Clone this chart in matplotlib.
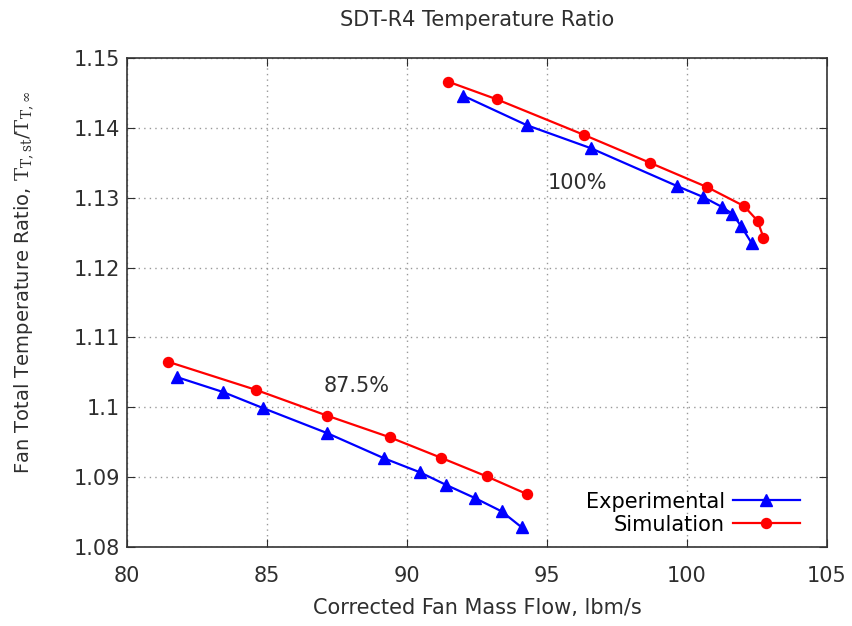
import matplotlib
matplotlib.use("Agg")
import matplotlib.pyplot as plt

# 100% speed line
exp100_flow = [92.01, 94.27, 96.56, 99.63, 100.58, 101.24, 101.62, 101.92, 102.31]
exp100_ratio = [1.1446, 1.1404, 1.1371, 1.1317, 1.1301, 1.1287, 1.1277, 1.1260, 1.1235]
sim100_flow = [91.48, 93.20, 96.32, 98.68, 100.73, 102.04, 102.52, 102.73]
sim100_ratio = [1.1466, 1.1441, 1.1390, 1.1350, 1.1315, 1.1288, 1.1267, 1.1243]

# 87.5% speed line
exp875_flow = [81.80, 83.42, 84.85, 87.15, 89.18, 90.46, 91.39, 92.43, 93.38, 94.10]
exp875_ratio = [1.1043, 1.1022, 1.0999, 1.0963, 1.0927, 1.0907, 1.0889, 1.0870, 1.0851, 1.0828]
sim875_flow = [81.48, 84.60, 87.15, 89.39, 91.20, 92.85, 94.27]
sim875_ratio = [1.1065, 1.1025, 1.0988, 1.0957, 1.0928, 1.0901, 1.0876]

xticks = [80, 85, 90, 95, 100, 105]
yticks = [1.08, 1.09, 1.10, 1.11, 1.12, 1.13, 1.14, 1.15]
ytick_labels = ['1.08', '1.09', '1.1', '1.11', '1.12', '1.13', '1.14', '1.15']

plt.rcParams['font.family'] = ['DejaVu Sans']
plt.rcParams['mathtext.fontset'] = 'dejavuserif'
txt = '#2e2e2e'

fig = plt.figure(figsize=(8.53, 6.26), dpi=100)
ax = fig.add_axes([0.1489, 0.1262, 0.8206, 0.7811])

blue = '#0000ff'
red = '#ff0000'
ax.plot(exp100_flow, exp100_ratio, color=blue, lw=1.6, marker='^', ms=8, label='Experimental')
ax.plot(exp875_flow, exp875_ratio, color=blue, lw=1.6, marker='^', ms=8)
ax.plot(sim100_flow, sim100_ratio, color=red, lw=1.6, marker='o', ms=7.2, label='Simulation')
ax.plot(sim875_flow, sim875_ratio, color=red, lw=1.6, marker='o', ms=7.2)

ax.text(96.1, 1.1321, '100%', fontsize=15, color=txt, ha='center', va='center')
ax.text(88.2, 1.1030, '87.5%', fontsize=15, color=txt, ha='center', va='center')

ax.set_xlim(80, 105)
ax.set_ylim(1.08, 1.15)
ax.set_xticks(xticks)
ax.set_yticks(yticks)
ax.set_yticklabels(ytick_labels)
ax.tick_params(direction='in', top=True, right=True, length=6, labelsize=15, colors=txt)
ax.tick_params(axis='x', pad=14)
ax.tick_params(axis='y', pad=5)
ax.grid(True, linestyle=(0, (1, 3)), color='#999999', lw=1)
for s in ax.spines.values():
    s.set_color('#333333')
    s.set_linewidth(1.2)

ax.set_title('SDT-R4 Temperature Ratio', fontsize=15, color=txt, pad=23)
ax.set_xlabel('Corrected Fan Mass Flow, lbm/s', fontsize=15, color=txt, labelpad=8)
ax.set_ylabel(r'Fan Total Temperature Ratio, $\mathrm{T}_{\mathrm{T,st}}/\mathrm{T}_{\mathrm{T,\infty}}$',
              fontsize=14, color=txt)
ax.yaxis.set_label_coords(-0.13, 0.54)

ax.legend(loc='lower right', bbox_to_anchor=(0.973, 0.008), borderaxespad=0,
          frameon=False, markerfirst=False, fontsize=15,
          handlelength=3.2, labelspacing=0.15, handletextpad=0.4)

fig.savefig('out.png', dpi=100)
